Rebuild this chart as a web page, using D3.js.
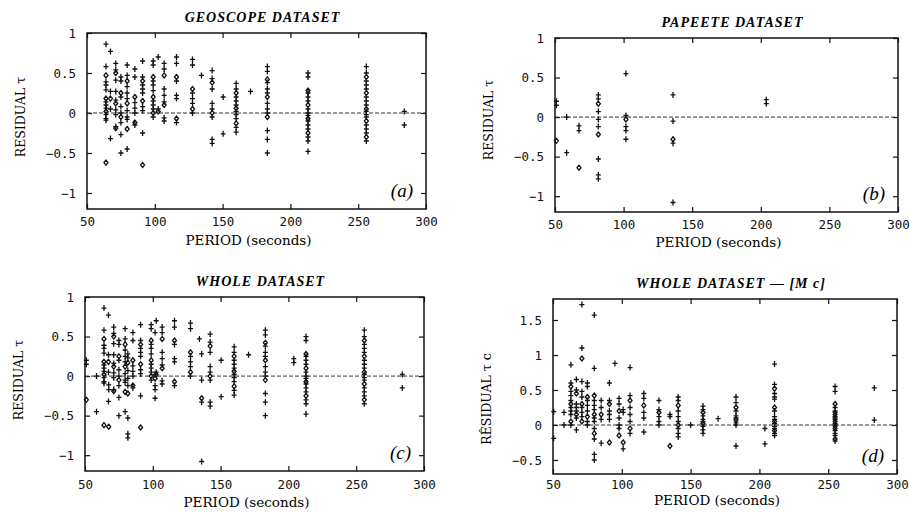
<!DOCTYPE html>
<html>
<head>
<meta charset="utf-8">
<script src="https://cdn.jsdelivr.net/npm/d3@7"></script>
<style>
  body { margin: 0; background: #fff; }
  svg { display: block; }
</style>
</head>
<body>
<svg id="chart" width="910" height="512"></svg>
<script>
// period (s) columns with the residuals
const geoscopeColumns = [
  [64, [0.86, 0.58, 0.47, 0.39, 0.35, 0.29, 0.18, 0.14, 0.1, 0.06, 0.02, -0.02, -0.07, -0.09, -0.62]],
  [67.3, [0.77, 0.27, 0.18, 0.05, -0.32]],
  [71.2, [0.62, 0.54, 0.5, 0.41, 0.27, 0.16, 0.12, 0.04, -0.02, -0.17, -0.19]],
  [75, [0.45, 0.4, 0.25, 0.2, 0.08, 0.0, -0.05, -0.12, -0.27, -0.5]],
  [79.6, [0.6, 0.47, 0.4, 0.33, 0.25, 0.18, 0.12, 0.03, -0.05, -0.08, -0.2, -0.45]],
  [85.3, [0.55, 0.45, 0.2, 0.13, 0.06, 0.0, -0.12, -0.15]],
  [91, [0.65, 0.45, 0.4, 0.35, 0.3, 0.25, 0.15, 0.08, 0.03, -0.25, -0.65]],
  [98.8, [0.65, 0.6, 0.45, 0.4, 0.35, 0.28, 0.2, 0.15, 0.1, 0.05, 0.0, -0.05]],
  [102.5, [0.7, 0.05, 0.02]],
  [106.9, [0.62, 0.55, 0.47, 0.3, 0.22, 0.14, 0.1, -0.06, -0.1]],
  [116, [0.7, 0.62, 0.45, 0.4, 0.22, 0.18, -0.07, -0.12]],
  [127.8, [0.67, 0.6, 0.3, 0.25, 0.18, 0.12, 0.05, 0.0]],
  [134.4, [0.47]],
  [142.3, [0.53, 0.43, 0.38, 0.3, 0.12, 0.05, 0.0, -0.05, -0.33, -0.38]],
  [150.4, [0.2, -0.26]],
  [160, [0.37, 0.3, 0.25, 0.2, 0.15, 0.1, 0.06, 0.02, -0.02, -0.07, -0.13, -0.18, -0.24]],
  [170.6, [0.27]],
  [183, [0.58, 0.52, 0.42, 0.38, 0.3, 0.25, 0.2, 0.12, 0.05, 0.0, -0.05, -0.22, -0.33, -0.5]],
  [213, [0.5, 0.45, 0.28, 0.25, 0.2, 0.15, 0.1, 0.05, 0.0, -0.03, -0.07, -0.1, -0.15, -0.2, -0.25, -0.3, -0.35, -0.48]],
  [256, [0.58, 0.5, 0.45, 0.4, 0.35, 0.3, 0.25, 0.2, 0.15, 0.1, 0.05, 0.02, -0.02, -0.05, -0.1, -0.15, -0.2, -0.25, -0.3, -0.35]],
  [284, [0.02, -0.15]]
]

const papeeteColumns = [
  [51, [0.2, 0.15, -0.3]],
  [58.5, [0.0, -0.45]],
  [67.5, [-0.11, -0.17, -0.64]],
  [81.6, [0.28, 0.23, 0.17, 0.07, -0.03, -0.12, -0.22, -0.53, -0.73, -0.78]],
  [101.7, [0.55, 0.02, -0.03, -0.12, -0.17, -0.28]],
  [136, [0.28, -0.05, -0.28, -0.33, -1.08]],
  [204, [0.22, 0.17]]
]

// whole dataset = geoscope + papeete
const wholeColumns = geoscopeColumns.concat(papeeteColumns)

const correctedColumns = [
  [50.5, [0.19, -0.19]],
  [58, [0.18, 0.0]],
  [63, [0.86, 0.6, 0.55, 0.48, 0.42, 0.35, 0.3, 0.25, 0.2, 0.15, 0.05, 0.0]],
  [67, [0.65, 0.5, 0.45, 0.3, 0.25, 0.2, 0.15, 0.1, -0.07]],
  [71, [1.72, 1.1, 0.95, 0.62, 0.48, 0.4, 0.3, 0.25, 0.18, 0.12, 0.05]],
  [75, [0.6, 0.55, 0.4, 0.35, 0.28, 0.2, 0.12, 0.05, 0.0]],
  [80, [1.57, 0.81, 0.42, 0.35, 0.28, 0.22, 0.15, 0.1, 0.05, -0.05, -0.12, -0.2, -0.42, -0.5]],
  [85, [0.35, 0.25, 0.15, 0.08, -0.26]],
  [91, [0.6, 0.35, 0.3, 0.2, 0.15, 0.08, -0.25]],
  [95, [0.88]],
  [98, [0.38, 0.3, 0.2, 0.1, 0.0, -0.05, -0.15]],
  [101, [0.22, 0.18, -0.25, -0.34]],
  [106, [0.82, 0.42, 0.35, 0.25, 0.15, 0.05, -0.05, -0.12]],
  [116, [0.45, 0.38, 0.28, 0.18, 0.1, -0.1]],
  [127, [0.35, 0.22, 0.18, 0.12, 0.05, 0.0]],
  [135, [0.15, 0.12, -0.3]],
  [141, [0.4, 0.35, 0.28, 0.2, 0.12, 0.05, 0.0, -0.05, -0.12, -0.17]],
  [150, [0.0]],
  [159, [0.27, 0.22, 0.18, 0.13, 0.08, 0.05, 0.02, -0.02, -0.07, -0.12]],
  [170, [0.09]],
  [183, [0.4, 0.32, 0.25, 0.2, 0.13, 0.1, 0.07, 0.03, 0.0, -0.3]],
  [204, [-0.05, -0.27]],
  [211, [0.87, 0.58, 0.52, 0.45, 0.4, 0.37, 0.25, 0.2, 0.12, 0.08, 0.05, 0.02, -0.02, -0.05, -0.08, -0.12, -0.15]],
  [255, [0.55, 0.48, 0.3, 0.25, 0.2, 0.18, 0.15, 0.12, 0.1, 0.08, 0.05, 0.02, 0.0, -0.02, -0.05, -0.08, -0.12, -0.15, -0.2, -0.23]],
  [283.5, [0.53, 0.07]]
]

const periodTicks = [50, 100, 150, 200, 250, 300]
const residualTicks = [-1, -0.5, 0, 0.5, 1]
const correctedTicks = [-0.5, 0, 0.5, 1, 1.5]

const titles = ['GEOSCOPE DATASET', 'PAPEETE DATASET', 'WHOLE DATASET', 'WHOLE DATASET — [M c]']
const yLabels = ['RESIDUAL τ', 'RESIDUAL τ', 'RESIDUAL τ', 'RÊSIDUAL  τ c']
const panelTags = ['(a)', '(b)', '(c)', '(d)']

const svg = d3.select('#chart')

const panels = [
  { box: [87, 33, 426, 209], yDom: [-1.2, 1], yTicks: residualTicks, cols: geoscopeColumns, labelY: 117, xlab: 36, pad: 8 },
  { box: [555, 38, 898, 212], yDom: [-1.2, 1], yTicks: residualTicks, cols: papeeteColumns, labelY: 120, xlab: 35, pad: 8 },
  { box: [85, 297, 424, 471], yDom: [-1.2, 1], yTicks: residualTicks, cols: wholeColumns, labelY: 380, xlab: 36, pad: 9 },
  { box: [553, 299, 897, 474], yDom: [-0.7, 1.8], yTicks: correctedTicks, cols: correctedColumns, labelY: 399, xlab: 31, pad: 6 }
]

const fmt = (d) => d3.format('~g')(d)

panels.forEach((p, i) => {
  const [x0, y0, x1, y1] = p.box
  const x = d3.scaleLinear().domain([50, 300]).range([x0, x1])
  const y = d3.scaleLinear().domain(p.yDom).range([y1, y0])
  const g = svg.append('g')

  // axes with inward ticks
  const bottom = g.append('g').attr('transform', `translate(0,${y1})`)
    .call(d3.axisBottom(x).tickValues(periodTicks).tickSize(-5).tickPadding(p.pad).tickFormat(fmt))
  const top = g.append('g').attr('transform', `translate(0,${y0})`)
    .call(d3.axisTop(x).tickValues(periodTicks).tickSize(-5).tickFormat(''))
  const left = g.append('g').attr('transform', `translate(${x0},0)`)
    .call(d3.axisLeft(y).tickValues(p.yTicks).tickSize(-5).tickPadding(11).tickFormat(fmt))
  const right = g.append('g').attr('transform', `translate(${x1},0)`)
    .call(d3.axisRight(y).tickValues(p.yTicks).tickSize(-5).tickFormat(''))
  ;[bottom, top, left, right].forEach((a) => {
    a.select('.domain').remove()
    a.selectAll('line').attr('stroke', '#111').attr('stroke-width', 1.2)
    a.selectAll('text').attr('fill', '#111')
      .style('font-family', '"DejaVu Sans Mono", monospace').style('font-size', '12.5px')
  })

  // zero line
  g.append('line')
    .attr('x1', x0).attr('x2', x1).attr('y1', y(0)).attr('y2', y(0))
    .attr('stroke', '#333').attr('stroke-width', 1).attr('stroke-dasharray', '4,2')

  // frame
  g.append('rect')
    .attr('x', x0).attr('y', y0).attr('width', x1 - x0).attr('height', y1 - y0)
    .attr('fill', 'none').attr('stroke', '#111').attr('stroke-width', 1.5)

  // points
  const pts = []
  p.cols.forEach(([per, vals]) => vals.forEach((v, j) => pts.push({ per, v, j })))
  const marks = g.append('g').attr('stroke', '#111').attr('fill', 'none').attr('stroke-width', 1.3)
  marks.selectAll('path')
    .data(pts)
    .join('path')
    .attr('transform', (d) => `translate(${x(d.per)},${y(d.v)})`)
    .attr('d', (d) => d.j % 4 === 2
      ? 'M0,-2.5L2,0L0,2.5L-2,0Z'
      : 'M-2.5,0H2.5M0,-3V3')

  // titles and labels
  g.append('text')
    .attr('x', (x0 + x1) / 2 + 6).attr('y', y0 - 11)
    .attr('text-anchor', 'middle')
    .style('font-family', '"Liberation Serif", serif').style('font-style', 'italic')
    .style('font-weight', 'bold').style('font-size', '14px').style('letter-spacing', '1px')
    .text(titles[i])

  g.append('text')
    .attr('x', (x0 + x1) / 2 - 8).attr('y', y1 + p.xlab)
    .attr('text-anchor', 'middle')
    .style('font-family', '"DejaVu Serif", serif').style('font-size', '13.5px')
    .text('PERIOD (seconds)')

  g.append('text')
    .attr('transform', `translate(${x0 - 67},${p.labelY}) rotate(-90)`)
    .attr('text-anchor', 'middle').attr('dominant-baseline', 'central')
    .style('font-family', '"DejaVu Serif", serif').style('font-size', '12.5px')
    .text(yLabels[i])

  g.append('text')
    .attr('x', x1 - 13).attr('y', y1 - 12)
    .attr('text-anchor', 'end')
    .style('font-family', '"Liberation Serif", serif').style('font-style', 'italic')
    .style('font-size', '19px')
    .text(panelTags[i])
})
</script>
</body>
</html>
